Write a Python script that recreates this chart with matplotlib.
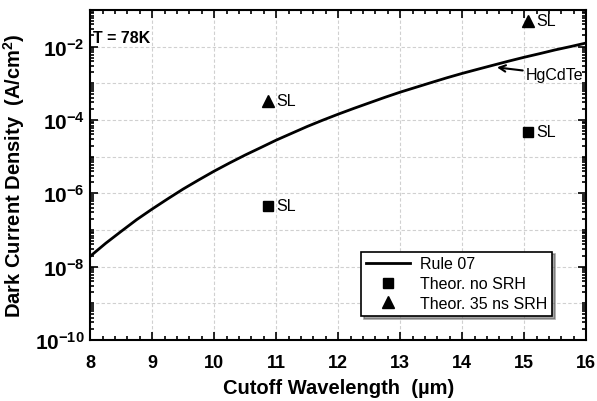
import numpy as np
import matplotlib.pyplot as plt
from matplotlib.ticker import LogLocator, MultipleLocator, FixedLocator, NullFormatter

plt.rcParams['font.family'] = ['Liberation Sans', 'DejaVu Sans']
plt.rcParams['mathtext.fontset'] = 'custom'
plt.rcParams['mathtext.rm'] = 'Liberation Sans'
plt.rcParams['mathtext.bf'] = 'Liberation Sans:bold'

# Rule 07 curve
wl = [8, 8.25, 8.5, 8.75, 9, 9.25, 9.5, 9.75, 10, 10.25, 10.5, 10.75, 11, 11.25, 11.5,
      11.75, 12, 12.25, 12.5, 12.75, 13, 13.25, 13.5, 13.75, 14, 14.25, 14.5, 14.75,
      15, 15.25, 15.5, 15.75, 16]
rule07 = [1.9e-8, 4.3e-8, 9.1e-8, 1.9e-7, 3.7e-7, 7.0e-7, 1.3e-6, 2.3e-6, 4.0e-6,
          6.7e-6, 1.1e-5, 1.75e-5, 2.8e-5, 4.3e-5, 6.6e-5, 9.8e-5, 1.43e-4, 2.05e-4,
          2.9e-4, 4.1e-4, 5.7e-4, 7.7e-4, 1.04e-3, 1.4e-3, 1.85e-3, 2.4e-3, 3.1e-3,
          4.0e-3, 5.1e-3, 6.4e-3, 8.1e-3, 1.0e-2, 1.25e-2]

# SL theoretical points
sq_x = [10.87, 15.06]
sq_y = [4.5e-7, 4.7e-5]
tri_x = [10.87, 15.06]
tri_y = [3.3e-4, 5.1e-2]

fig = plt.figure(figsize=(5.97, 4.02), dpi=100)
ax = fig.add_axes([0.151, 0.152, 0.831, 0.821])

ax.plot(wl, rule07, color='black', lw=2, label='Rule 07')
ax.plot(sq_x, sq_y, 's', color='black', ms=7, ls='none', label='Theor. no SRH')
ax.plot(tri_x, tri_y, '^', color='black', ms=8.5, ls='none', label='Theor. 35 ns SRH')

for x, y in zip(sq_x, sq_y):
    ax.text(x + 0.13, y, 'SL', fontsize=11.5, va='center', ha='left')
for x, y in zip(tri_x, tri_y):
    ax.text(x + 0.13, y, 'SL', fontsize=11.5, va='center', ha='left')

ax.annotate('HgCdTe', xy=(14.56, 2.7e-3), xytext=(15.02, 1.75e-3), fontsize=11.5,
            va='center', ha='left',
            arrowprops=dict(arrowstyle='->', color='black', lw=1.5, shrinkA=0, shrinkB=0))

ax.text(8.05, 1.75e-2, 'T = 78K', fontsize=11.5, fontweight='bold', va='center', ha='left')

ax.set_yscale('log')
ax.set_xlim(8, 16)
ax.set_ylim(1e-10, 1e-1)

ax.xaxis.set_major_locator(MultipleLocator(1))
ax.xaxis.set_minor_locator(MultipleLocator(0.2))
ax.yaxis.set_major_locator(FixedLocator([1e-10, 1e-8, 1e-6, 1e-4, 1e-2]))
ax.yaxis.set_minor_locator(LogLocator(base=10, subs=np.arange(1, 10), numticks=20))
ax.yaxis.set_minor_formatter(NullFormatter())
ax.set_yticklabels(['$\\mathbf{10^{-10}}$', '$\\mathbf{10^{-8}}$', '$\\mathbf{10^{-6}}$',
                    '$\\mathbf{10^{-4}}$', '$\\mathbf{10^{-2}}$'])

ax.tick_params(which='both', direction='in', top=True, right=True, width=1.2)
ax.tick_params(which='major', length=6)
ax.tick_params(which='minor', length=3)
ax.tick_params(axis='x', labelsize=13, pad=10)
ax.tick_params(axis='y', labelsize=15, pad=4)
for lab in ax.get_xticklabels():
    lab.set_fontweight('bold')

for d in range(-10, 0):
    ax.axhline(10.0 ** d, color='#d0d0d0', lw=0.8, ls=(0, (3, 2)), zorder=0)
for xv in range(9, 16):
    ax.axvline(xv, color='#d0d0d0', lw=0.8, ls=(0, (3, 2)), zorder=0)

for s in ax.spines.values():
    s.set_linewidth(1.5)

ax.set_xlabel('Cutoff Wavelength  (µm)', fontsize=14.5, fontweight='bold', labelpad=5)
ax.set_ylabel('Dark Current Density  (A/cm$^\\mathbf{2}$)', fontsize=14.5,
              fontweight='bold', labelpad=6)

leg = ax.legend(loc='lower right', bbox_to_anchor=(0.931, 0.073), borderaxespad=0,
                fontsize=11.5, frameon=True, fancybox=False, shadow=True,
                edgecolor='black', handlelength=2.8, borderpad=0.3, labelspacing=0.3,
                handletextpad=0.6)
leg.get_frame().set_linewidth(1.2)

fig.savefig('out.png', dpi=100)
